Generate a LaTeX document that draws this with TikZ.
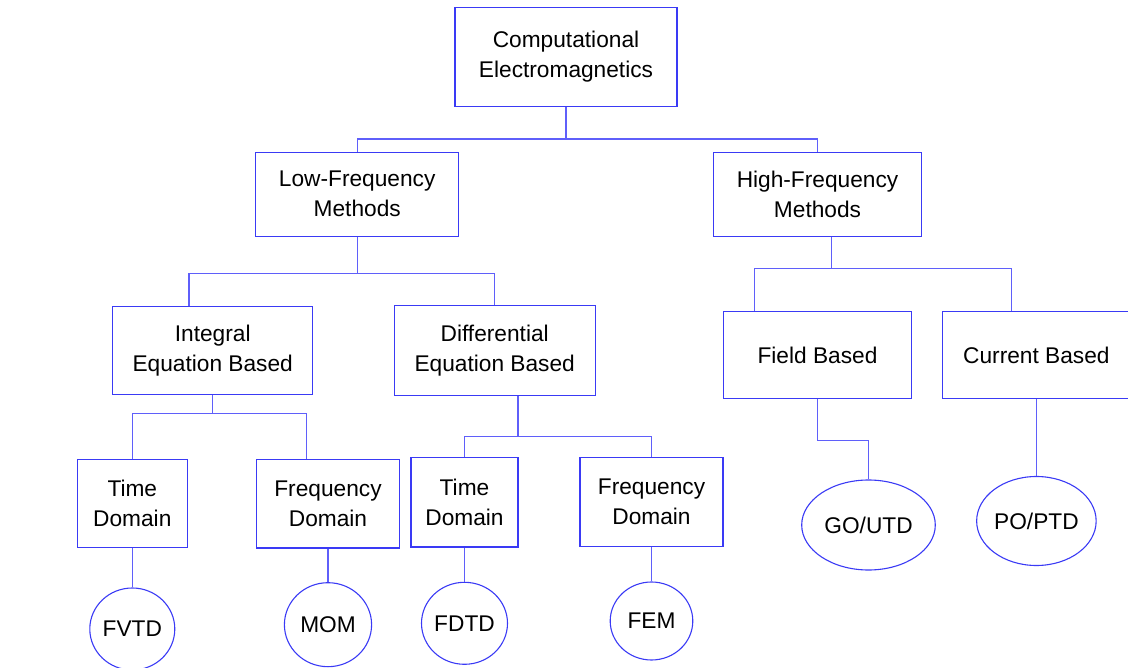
\documentclass[tikz,border=0pt]{standalone}
\usepackage{fontspec}
\setmainfont{Liberation Sans}
\usetikzlibrary{shapes.geometric}
\definecolor{boxblue}{RGB}{58,58,245}
\definecolor{lineblue}{RGB}{95,95,250}
\tikzset{
  box/.style={draw=boxblue, line width=1.1pt, rectangle, inner sep=0pt, align=center,
    font=\fontsize{22.7}{30}\selectfont},
  oval/.style={draw=boxblue, line width=1.1pt, ellipse, inner sep=0pt, align=center,
    font=\fontsize{22.7}{30}\selectfont},
  link/.style={draw=lineblue, line width=1.1pt}
}
\begin{document}
\begin{tikzpicture}[x=1pt,y=-1pt]
\useasboundingbox (0,0) rectangle (1128,668);
\clip (0,0) rectangle (1128,668);
% boxes
\node[box, minimum width=222pt, minimum height=99.4pt] (cem) at (566,57) {Computational\\Electromagnetics};
\node[box, minimum width=203pt, minimum height=84pt] (lf) at (357.2,194.3) {Low-Frequency\\Methods};
\node[box, minimum width=208.3pt, minimum height=84.4pt] (hf) at (817.5,194.5) {High-Frequency\\Methods};
\node[box, minimum width=200.4pt, minimum height=88.5pt] (ie) at (212.7,350.7) {Integral\\Equation Based};
\node[box, minimum width=200.7pt, minimum height=90.3pt] (de) at (494.7,350.8) {Differential\\Equation Based};
\node[box, minimum width=188.4pt, minimum height=86.6pt] (fb) at (817.5,355) {Field Based};
\node[box, minimum width=187pt, minimum height=86.6pt] (cb) at (1036.4,355) {Current Based};
\node[box, minimum width=109.8pt, minimum height=88pt] (td1) at (132.3,503.7) {Time\\Domain};
\node[box, minimum width=143pt, minimum height=88.3pt] (fd1) at (328,503.8) {Frequency\\Domain};
\node[box, minimum width=107pt, minimum height=89.3pt] (td2) at (464.5,502.3) {Time\\Domain};
\node[box, minimum width=143pt, minimum height=89pt] (fd2) at (651.5,502.2) {Frequency\\Domain};
% ellipses
\node[oval, minimum width=85pt, minimum height=82pt] (fvtd) at (132.3,629) {FVTD};
\node[oval, minimum width=87.2pt, minimum height=84pt] (mom) at (328,624.7) {MOM};
\node[oval, minimum width=86pt, minimum height=82pt] (fdtd) at (464.5,623.3) {FDTD};
\node[oval, minimum width=82.6pt, minimum height=78pt] (fem) at (651.5,621) {FEM};
\node[oval, minimum width=133.6pt, minimum height=90pt] (go) at (868.5,525) {GO/UTD};
\node[oval, minimum width=111pt, minimum height=89pt] (po) at (1036.4,521) {PO/PTD};
% connectors
\draw[link] (cem.south) -- ++(0,31.8) coordinate (j1);
\draw[link] (j1) -| (lf.north);
\draw[link] (j1) -| (hf.north);
\draw[link] (lf.south) -- ++(0,36.7) coordinate (j2);
\draw[link] (j2) -| ([xshift=-23.7pt]ie.north);
\draw[link] (j2) -| (de.north);
\draw[link] ([xshift=14.2pt]hf.south) -- ++(0,31.6) coordinate (j3);
\draw[link] (j3) -| ([xshift=-63.3pt]fb.north);
\draw[link] (j3) -| ([xshift=-24.6pt]cb.north);
\draw[link] (ie.south) -- ++(0,18) coordinate (j4);
\draw[link] (j4) -| (td1.north);
\draw[link] (j4) -| ([xshift=-21.4pt]fd1.north);
\draw[link] ([xshift=23.3pt]de.south) -- ++(0,39.7) coordinate (j5);
\draw[link] (j5) -| (td2.north);
\draw[link] (j5) -| (fd2.north);
\draw[link] (fb.south) -- ++(0,41.4) -| (go.north);
\draw[link] (cb.south) -- (po.north);
\draw[link] (td1.south) -- (fvtd.north);
\draw[link] (fd1.south) -- (mom.north);
\draw[link] (td2.south) -- (fdtd.north);
\draw[link] (fd2.south) -- (fem.north);
\end{tikzpicture}
\end{document}
